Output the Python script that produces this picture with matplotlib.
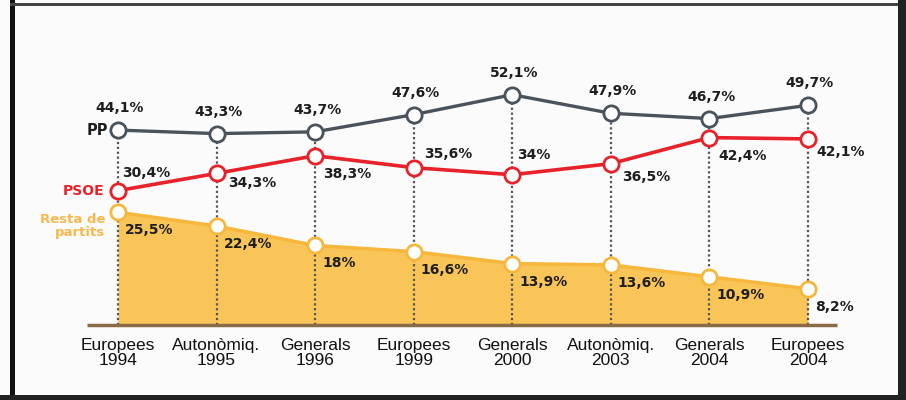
import matplotlib.pyplot as plt
from matplotlib.patches import Rectangle

# dades
eleccions = ["Europees\n1994", "Autonòmiq.\n1995", "Generals\n1996", "Europees\n1999",
             "Generals\n2000", "Autonòmiq.\n2003", "Generals\n2004", "Europees\n2004"]
pp = [44.1, 43.3, 43.7, 47.6, 52.1, 47.9, 46.7, 49.7]
psoe = [30.4, 34.3, 38.3, 35.6, 34.0, 36.5, 42.4, 42.1]
resta = [25.5, 22.4, 18.0, 16.6, 13.9, 13.6, 10.9, 8.2]

# where the PSOE value labels sit (pixels from the point)
psoe_offsets = [(4, 18), (12, -10), (8, -18), (10, 14), (5, 20), (11, -13), (9, -18), (8, -13)]

C_PP = '#4a535b'
C_PSOE = '#e8222b'
C_RESTA = '#f6b73c'
C_FILL = '#f9c558'
C_TXT = '#1e1e1e'


def fmt(v):
    s = f"{v:.1f}".replace('.', ',')
    if s.endswith(',0'):
        s = s[:-2]
    return s + "%"


fig = plt.figure(figsize=(9.06, 4.0), dpi=100, facecolor='#fbfbfb')
ax = fig.add_axes([0, 0, 1, 1])
ax.set_facecolor('none')
ax.set_axis_off()

# map data -> pixels: x=0 at 118px, step 98.57px ; y=0 at 75px from bottom, 4.42px per %
step = 98.57
ax.set_xlim(-118 / step, (906 - 118) / step)
ax.set_ylim(-75 / 4.42, (400 - 75) / 4.42)

xs = list(range(len(eleccions)))

# area resta de partits
ax.fill_between(xs, 0, resta, color=C_FILL, lw=0, zorder=1)
ax.plot(xs, resta, color=C_RESTA, lw=2.5, zorder=4)

# dotted guides
for x, v in zip(xs, pp):
    ax.plot([x, x], [0, v], color='#555555', lw=1.6, ls=(0, (1, 1.2)), zorder=2)

# baseline
ax.plot([-0.315, 7.29], [0, 0], color='#8b6b45', lw=2.5, solid_capstyle='butt', zorder=3)

ax.plot(xs, pp, color=C_PP, lw=2.4, zorder=4)
ax.plot(xs, psoe, color=C_PSOE, lw=2.6, zorder=4)

mk = dict(marker='o', ms=11, mfc='white', mew=2, ls='none', zorder=6)
ax.plot(xs, pp, mec=C_PP, **mk)
ax.plot(xs, psoe, mec=C_PSOE, **mk)
ax.plot(xs, resta, mec=C_RESTA, **mk)

lab = dict(textcoords='offset pixels', fontsize=10, fontweight='bold', color=C_TXT,
           va='center', zorder=7)
for x, v in zip(xs, pp):
    ax.annotate(fmt(v), (x, v), xytext=(2, 22), ha='center', **lab)
for x, v, off in zip(xs, psoe, psoe_offsets):
    ax.annotate(fmt(v), (x, v), xytext=off, ha='left', **lab)
for x, v in zip(xs, resta):
    ax.annotate(fmt(v), (x, v), xytext=(7, -18), ha='left', **lab)

# series names
ax.annotate("PP", (0, pp[0]), xytext=(-10, 0), textcoords='offset pixels', ha='right',
            va='center', fontsize=10.5, fontweight='heavy', color=C_TXT)
ax.annotate("PSOE", (0, psoe[0]), xytext=(-14, 0), textcoords='offset pixels', ha='right',
            va='center', fontsize=10, fontweight='heavy', color=C_PSOE)
ax.annotate("Resta de\npartits", (0, resta[0]), xytext=(-13, -14), textcoords='offset pixels',
            ha='right', va='center', multialignment='right', linespacing=1.0,
            fontsize=9.5, fontweight='heavy', color='#f7b94e')

# category labels
for x, name in zip(xs, eleccions):
    ax.annotate(name, (x, 0), xytext=(0, -28), textcoords='offset pixels', ha='center',
                va='center', fontsize=12.5, family='Liberation Sans', linespacing=1.08,
                color='#111111')

# frame of the clipping
fig.add_artist(Rectangle((10 / 906, 0), 5 / 906, 1, transform=fig.transFigure,
                         color='#111111', lw=0))
fig.add_artist(Rectangle((10 / 906, 1 - 6 / 400), 1, 3 / 400, transform=fig.transFigure,
                         color='#444444', lw=0))
fig.add_artist(Rectangle((898 / 906, 0), 8 / 906, 1, transform=fig.transFigure,
                         color='#222222', lw=0))
fig.add_artist(Rectangle((0, 0), 1, 5 / 400, transform=fig.transFigure,
                         color='#222222', lw=0))

fig.savefig('out.png', dpi=100, facecolor=fig.get_facecolor())
